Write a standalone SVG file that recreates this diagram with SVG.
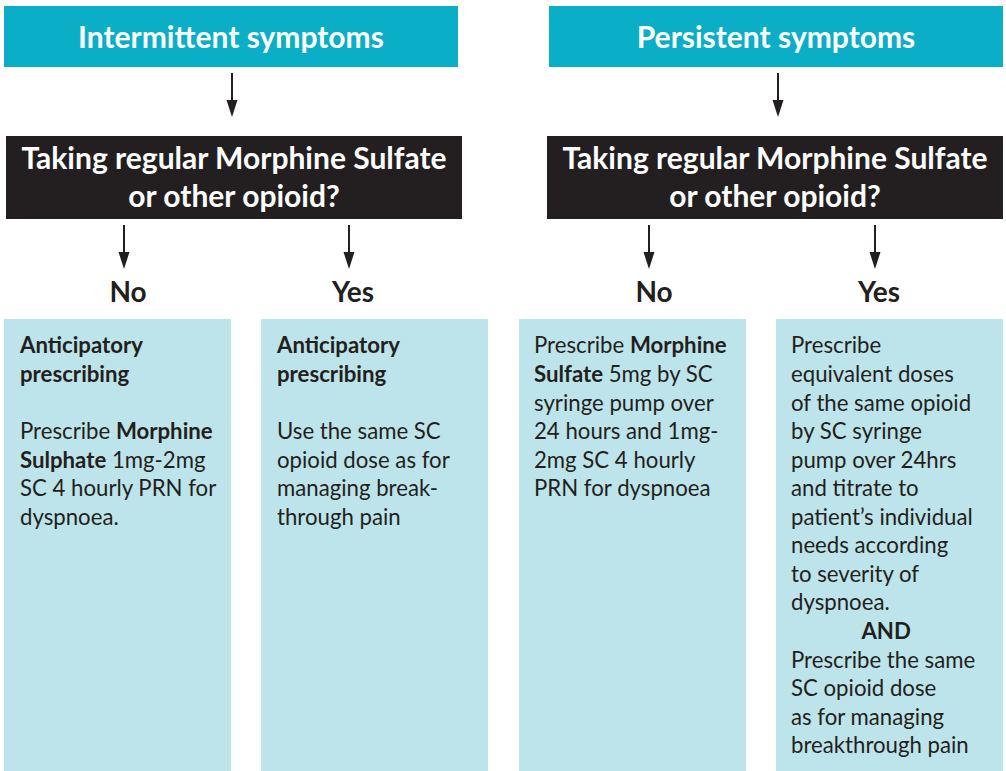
<svg xmlns="http://www.w3.org/2000/svg" width="1006" height="771" viewBox="0 0 1006 771">
<style>
.hdr{fill:#0BAEC7}
.q{fill:#231F20}
.box{fill:#BDE4EA}
.ht{font-family:Lato,"Open Sans",sans-serif;font-weight:bold;font-size:30px;fill:#fff;text-anchor:middle}
.qt{font-family:Lato,"Open Sans",sans-serif;font-weight:bold;font-size:30px;fill:#fff;text-anchor:middle}
.yn{font-family:Lato,"Open Sans",sans-serif;font-weight:bold;font-size:28px;fill:#231F20;text-anchor:middle}
.bt{font-family:Lato,"Open Sans",sans-serif;font-size:22.2px;fill:#231F20}
.b{font-weight:bold}
.conn{stroke:#231F20;stroke-width:2;fill:none}
</style>
<rect width="1006" height="771" fill="#fff"/>
<g id="connectors">
<path class="conn" d="M232,73 V100"/><path d="M226.5,100 L237.5,100 L232,117 Z" fill="#231F20"/>
<path class="conn" d="M778,73 V100"/><path d="M772.5,100 L783.5,100 L778,117 Z" fill="#231F20"/>
<path class="conn" d="M124,225 V252"/><path d="M118.5,252 L129.5,252 L124,269 Z" fill="#231F20"/>
<path class="conn" d="M349,225 V252"/><path d="M343.5,252 L354.5,252 L349,269 Z" fill="#231F20"/>
<path class="conn" d="M649,225 V252"/><path d="M643.5,252 L654.5,252 L649,269 Z" fill="#231F20"/>
<path class="conn" d="M875,225 V252"/><path d="M869.5,252 L880.5,252 L875,269 Z" fill="#231F20"/>
</g>
<g id="hdr-intermittent">
<rect class="hdr" x="4" y="6" width="454" height="61"/>
<text class="ht" x="231" y="48">Intermittent symptoms</text>
</g>
<g id="hdr-persistent">
<rect class="hdr" x="549" y="6" width="454" height="61"/>
<text class="ht" x="776" y="48">Persistent symptoms</text>
</g>
<g id="q-left">
<rect class="q" x="6" y="136" width="456" height="83"/>
<text class="qt" x="234" y="169">Taking regular Morphine Sulfate</text>
<text class="qt" x="234" y="207">or other opioid?</text>
</g>
<g id="q-right">
<rect class="q" x="547" y="136" width="456" height="83"/>
<text class="qt" x="775" y="169">Taking regular Morphine Sulfate</text>
<text class="qt" x="775" y="207">or other opioid?</text>
</g>
<g id="lbl-no-left"><text class="yn" x="128" y="302">No</text></g>
<g id="lbl-yes-left"><text class="yn" x="353" y="302">Yes</text></g>
<g id="lbl-no-right"><text class="yn" x="654" y="302">No</text></g>
<g id="lbl-yes-right"><text class="yn" x="879" y="302">Yes</text></g>
<g id="box1">
<rect class="box" x="4" y="319" width="227" height="452"/>
<text class="bt" x="20">
<tspan class="b" x="20" y="353">Anticipatory</tspan>
<tspan class="b" x="20" y="382">prescribing</tspan>
<tspan x="20" y="439">Prescribe <tspan class="b">Morphine</tspan></tspan>
<tspan x="20" y="468"><tspan class="b">Sulphate</tspan> 1mg-2mg</tspan>
<tspan x="20" y="496">SC 4 hourly PRN for</tspan>
<tspan x="20" y="525">dyspnoea.</tspan>
</text>
</g>
<g id="box2">
<rect class="box" x="261" y="319" width="227" height="452"/>
<text class="bt">
<tspan class="b" x="277" y="353">Anticipatory</tspan>
<tspan class="b" x="277" y="382">prescribing</tspan>
<tspan x="277" y="439">Use the same SC</tspan>
<tspan x="277" y="468">opioid dose as for</tspan>
<tspan x="277" y="496">managing break-</tspan>
<tspan x="277" y="525">through pain</tspan>
</text>
</g>
<g id="box3">
<rect class="box" x="519" y="319" width="227" height="452"/>
<text class="bt">
<tspan x="534" y="353">Prescribe <tspan class="b">Morphine</tspan></tspan>
<tspan x="534" y="382"><tspan class="b">Sulfate</tspan> 5mg by SC</tspan>
<tspan x="534" y="411">syringe pump over</tspan>
<tspan x="534" y="439">24 hours and 1mg-</tspan>
<tspan x="534" y="468">2mg SC 4 hourly</tspan>
<tspan x="534" y="496">PRN for dyspnoea</tspan>
</text>
</g>
<g id="box4">
<rect class="box" x="776" y="319" width="227" height="452"/>
<text class="bt">
<tspan x="791" y="353">Prescribe</tspan>
<tspan x="791" y="382">equivalent doses</tspan>
<tspan x="791" y="411">of the same opioid</tspan>
<tspan x="791" y="439">by SC syringe</tspan>
<tspan x="791" y="468">pump over 24hrs</tspan>
<tspan x="791" y="496">and titrate to</tspan>
<tspan x="791" y="525">patient’s individual</tspan>
<tspan x="791" y="553">needs according</tspan>
<tspan x="791" y="582">to severity of</tspan>
<tspan x="791" y="610">dyspnoea.</tspan>
<tspan class="b" x="889" y="639" text-anchor="middle">AND</tspan>
<tspan x="791" y="668">Prescribe the same</tspan>
<tspan x="791" y="696">SC opioid dose</tspan>
<tspan x="791" y="725">as for managing</tspan>
<tspan x="791" y="753">breakthrough pain</tspan>
</text>
</g>
</svg>
